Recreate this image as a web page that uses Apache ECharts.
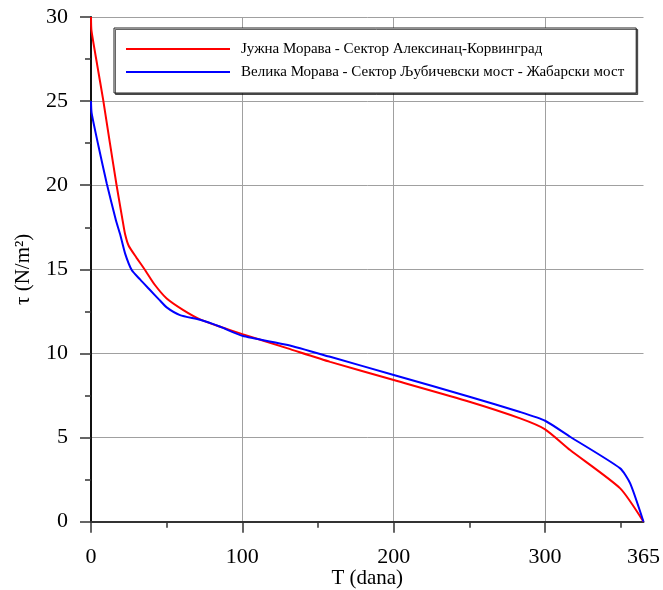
<!DOCTYPE html>
<html>
<head>
<meta charset="utf-8">
<script src="https://cdn.jsdelivr.net/npm/echarts@6/dist/echarts.min.js"></script>
<style>html,body{margin:0;padding:0;background:#fff}#c{width:663px;height:590px}</style>
</head>
<body>
<div id="c"></div>
<script>
var seriesNames = [
  "Јужна Морава - Сектор Алексинац-Корвинград",
  "Велика Морава - Сектор Љубичевски мост - Жабарски мост"
];
var redT   = [0,  0.3,  4,    8,    12.5, 16.9, 20.9, 22.5, 24.9, 30,   35.7,  42,   50,    61,    72,    85,   100,   130,  158, 200,  250,  283.5, 300,  316.5, 349.6, 365];
var redTau = [30, 29.2, 27.2, 25.1, 22.5, 20,   17.9, 17.1, 16.4, 15.7, 14.96, 14.1, 13.27, 12.58, 12.03, 11.6, 11.15, 10.3, 9.5, 8.42, 7.13, 6.14,  5.49, 4.26,  1.98,  0];
var blueT   = [0,  0.4,  5,    10.4, 16.5, 19.2, 22.5,  26.9,  32.4, 39,    45,   50,    58.8,  72,   85,   100,   130,  158, 200,  250,  283.5, 300, 316.5, 349.6, 356.2, 365];
var blueTau = [25, 24.3, 22.3, 20.1, 17.9, 17.1, 15.95, 14.96, 14.4, 13.77, 13.2, 12.74, 12.28, 12.0, 11.6, 11.05, 10.5, 9.8, 8.72, 7.43, 6.52,  6.0, 5.05,  3.17,  2.28,  0];
var xLabelValues = [0, 100, 200, 300, 365];
var xMajorTicks = [0, 100, 200, 300];
var xMinorTicks = [50, 150, 250, 350];

function pairs(xs, ys) { return xs.map(function (x, i) { return [x, ys[i]]; }); }

var font = "'Liberation Serif', 'Times New Roman', serif";
var chart = echarts.init(document.getElementById('c'), null, {renderer: 'canvas'});
chart.setOption({
  backgroundColor: '#fff',
  animation: false,
  textStyle: {fontFamily: font},
  grid: {left: 91, right: 19.5, top: 17, bottom: 68.3, containLabel: false, outerBoundsMode: 'none'},
  legend: {
    orient: 'vertical',
    left: 114, top: 28,
    padding: [13, 12, 13, 11],
    itemWidth: 104, itemHeight: 14, itemGap: 7,
    backgroundColor: '#fff',
    borderColor: '#222', borderWidth: 1,
    shadowColor: 'rgba(0,0,0,0.6)', shadowOffsetX: 1.5, shadowOffsetY: 1.5, shadowBlur: 0,
    itemStyle: {opacity: 0},
    textStyle: {fontFamily: font, fontSize: 15, color: '#000', lineHeight: 16, padding: [0, 0, 0, 6]},
    data: seriesNames
  },
  xAxis: [{
    type: 'value', min: 0, max: 365, interval: 100,
    name: 'T (dana)', nameLocation: 'middle', nameGap: 46, nameMoveOverlap: false,
    nameTextStyle: {fontFamily: font, fontSize: 21, color: '#000'},
    axisLine: {lineStyle: {color: '#333', width: 2}},
    axisTick: {show: true, length: 11, lineStyle: {color: '#333', width: 1.5}, customValues: xMajorTicks},
    axisLabel: {fontFamily: font, fontSize: 22, color: '#000', margin: 25, customValues: xLabelValues, formatter: function (v) { return String(v); }},
    splitLine: {show: true, lineStyle: {color: '#a0a0a0', width: 1}}
  }, {
    type: 'value', min: 0, max: 365, position: 'bottom', gridIndex: 0,
    axisLine: {show: false},
    axisTick: {show: true, length: 6, lineStyle: {color: '#333', width: 1.5}, customValues: xMinorTicks},
    axisLabel: {show: false},
    splitLine: {show: false}
  }],
  yAxis: {
    type: 'value', min: 0, max: 30, interval: 5,
    name: 'τ (N/m²)', nameLocation: 'middle', nameGap: 57, nameRotate: 90, nameMoveOverlap: false,
    nameTextStyle: {fontFamily: font, fontSize: 21, color: '#000'},
    axisLine: {show: true, lineStyle: {color: '#111', width: 2}},
    axisTick: {show: true, length: 11, lineStyle: {color: '#333', width: 1.5}},
    minorTick: {show: true, splitNumber: 2, length: 6, lineStyle: {color: '#333', width: 1.5}},
    axisLabel: {fontFamily: font, fontSize: 22, color: '#000', margin: 23},
    splitLine: {show: true, lineStyle: {color: '#a0a0a0', width: 1}}
  },
  series: [{
    name: seriesNames[0], type: 'line', data: pairs(redT, redTau),
    symbol: 'none', smooth: 0.2, clip: false,
    lineStyle: {color: '#ff0000', width: 2}, itemStyle: {color: '#ff0000'}
  }, {
    name: seriesNames[1], type: 'line', data: pairs(blueT, blueTau),
    symbol: 'none', smooth: 0.2, clip: false,
    lineStyle: {color: '#0000ff', width: 2}, itemStyle: {color: '#0000ff'}
  }]
});
</script>
</body>
</html>
